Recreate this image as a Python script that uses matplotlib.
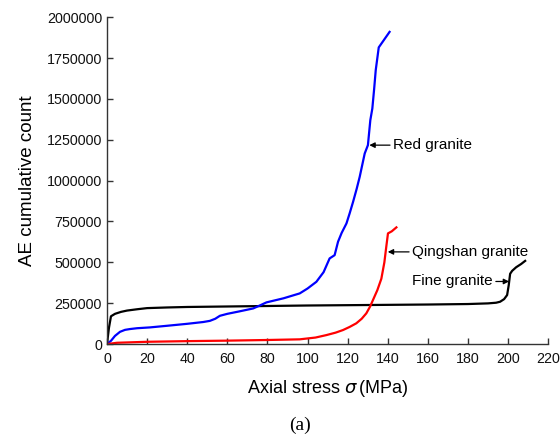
import matplotlib
matplotlib.use("Agg")
import matplotlib.pyplot as plt

plt.rcParams['font.family'] = ['Liberation Sans', 'DejaVu Sans']

# Fine granite (black)
fine_x = [0, 1, 2, 4, 7, 10, 15, 20, 30, 40, 60, 80, 100, 120, 140, 160, 180, 190, 194, 196, 198, 199.5, 200.3, 201, 202, 204, 206.5, 208.5]
fine_y = [0, 100000, 170000, 185000, 197000, 205000, 213000, 220000, 224000, 227000, 230000, 233000, 236000, 238000, 240000, 242000, 245000, 249000, 253000, 259000, 275000, 300000, 360000, 430000, 448000, 470000, 490000, 509000]

# Red granite (blue)
red_x = [0, 2, 4, 6.5, 9, 11.5, 15, 21.4, 30, 40, 48, 51.3, 54, 56.3, 60, 66, 72.9, 76, 79.5, 88, 96.1, 100, 104.4, 108, 111, 113.5, 115.2, 117, 119.4, 121, 122.7, 124.5, 126, 128.5, 130.1, 131.3, 132.3, 133.2, 134, 135.5, 140.9]
red_y = [0, 20000, 50000, 75000, 87000, 92000, 97000, 102000, 112000, 124000, 135000, 142000, 155000, 173000, 185000, 200000, 218000, 235000, 255000, 280000, 310000, 340000, 381000, 440000, 524000, 544000, 626000, 680000, 738000, 800000, 870000, 950000, 1023000, 1166000, 1217000, 1370000, 1441000, 1560000, 1676000, 1815000, 1910000]

# Qingshan granite (red)
qing_x = [0, 5, 20, 40, 60, 80, 96.1, 104, 109.4, 114, 117.7, 121, 124.3, 127, 129.3, 131.2, 133, 134.8, 136.8, 138.3, 139.3, 140.1, 142, 144.3]
qing_y = [0, 8000, 14000, 18000, 21000, 25000, 29000, 40000, 55000, 70000, 86000, 105000, 127000, 155000, 188000, 230000, 280000, 330000, 400000, 500000, 600000, 677000, 690000, 714000]

fig = plt.figure(figsize=(5.6, 4.4), dpi=100)
ax = fig.add_axes([0.191, 0.218, 0.788, 0.743])

ax.plot(fine_x, fine_y, color='black', linewidth=1.6)
ax.plot(red_x, red_y, color='#0000ff', linewidth=1.6)
ax.plot(qing_x, qing_y, color='#ff0000', linewidth=1.6)

ax.set_xlim(0, 220)
ax.set_ylim(0, 2000000)
ax.set_xticks(range(0, 221, 20))
yt = list(range(0, 2000001, 250000))
ax.set_yticks(yt)
ax.set_yticklabels([str(v) for v in yt])
ax.spines['top'].set_visible(False)
ax.spines['right'].set_visible(False)
for s in ['left', 'bottom']:
    ax.spines[s].set_color('#333333')
    ax.spines[s].set_linewidth(1.0)
ax.tick_params(direction='in', length=4, width=1, colors='#333333', labelsize=10.3, labelcolor='#111111')
ax.tick_params(axis='x', pad=6)

ax.set_xlabel(r'Axial stress $\sigma\,$(MPa)', fontsize=13, labelpad=8)
ax.set_ylabel('AE cumulative count', fontsize=13.5, labelpad=8)

arrow = dict(arrowstyle='-|>', color='black', lw=0.9, mutation_scale=8, shrinkA=0, shrinkB=0)
ax.annotate('Red granite', xy=(130.8, 1217000), xytext=(142.5, 1217000),
            fontsize=11, va='center', ha='left', arrowprops=arrow)
ax.annotate('Qingshan granite', xy=(140.0, 564000), xytext=(152, 564000),
            fontsize=11, va='center', ha='left', arrowprops=arrow)
ax.annotate('Fine granite', xy=(200.5, 383000), xytext=(192.5, 383000),
            fontsize=11, va='center', ha='right', arrowprops=arrow)

fig.text(0.536, 0.034, '(a)', fontsize=14, family='Liberation Serif', ha='center', va='center')

fig.savefig('out.png', dpi=100)
